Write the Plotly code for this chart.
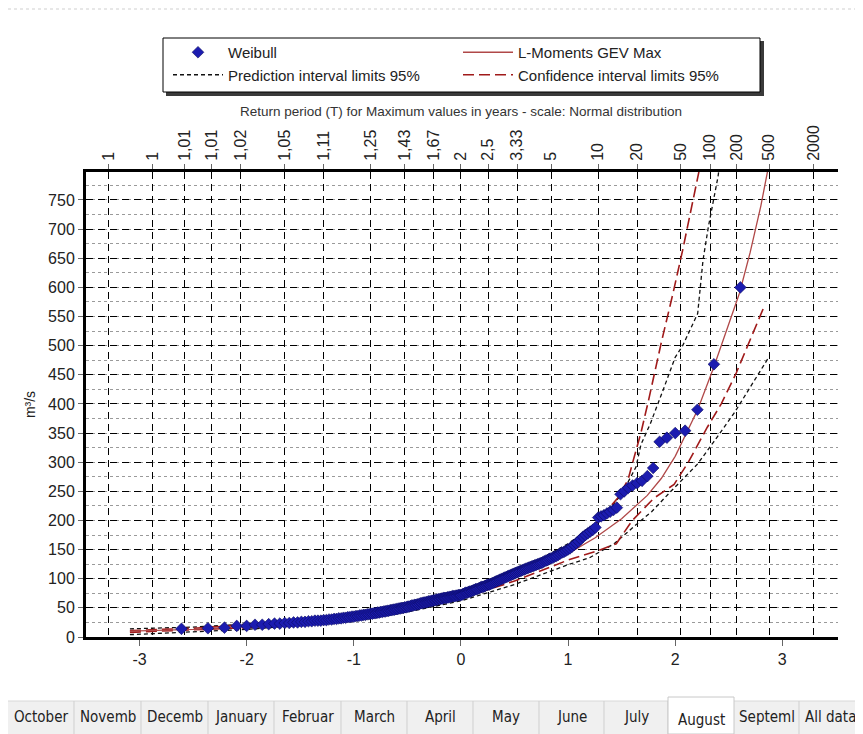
import plotly.graph_objects as go
from statistics import NormalDist

nd = NormalDist()

# ---------------- data ----------------
# Weibull sample (sorted, m3/s)
weibull_values = [
    14, 15, 16, 19, 19, 21, 21, 22, 23, 23,
    24, 24, 25, 25, 26, 26, 27, 27, 28, 28,
    28, 29, 29, 30, 30, 31, 31, 32, 32, 33,
    33, 34, 34, 35, 35, 36, 36, 37, 37, 38,
    38, 39, 39, 40, 40, 41, 41, 42, 42, 43,
    43, 44, 44, 45, 45, 46, 46, 47, 47, 48,
    48, 49, 49, 50, 50, 51, 51, 52, 52, 53,
    54, 54, 55, 55, 56, 56, 57, 58, 58, 59,
    59, 60, 60, 61, 61, 62, 62, 63, 63, 64,
    64, 65, 65, 66, 66, 67, 67, 67, 68, 68,
    69, 69, 70, 70, 70, 71, 71, 72, 72, 72,
    73, 74, 75, 76, 76, 77, 78, 78, 79, 80,
    81, 82, 82, 83, 84, 85, 86, 86, 87, 88,
    89, 90, 90, 91, 92, 93, 94, 95, 96, 97,
    98, 99, 100, 101, 102, 103, 104, 105, 106, 107,
    108, 109, 110, 111, 112, 113, 114, 115, 116, 117,
    118, 119, 120, 121, 122, 123, 124, 125, 126, 127,
    128, 130, 131, 132, 134, 135, 136, 138, 139, 141,
    143, 145, 146, 148, 150, 152, 155, 158, 161, 164,
    168, 172, 175, 178, 181, 184, 188,
    205, 207, 209, 212, 215, 218, 222,
    245, 250, 256, 260, 264, 268, 276, 290,
    335, 342, 350, 354, 390, 468, 600,
]

# Curves: x = standard normal variate, y = m3/s
gev_z = [-3.09, -2.5, -2.0, -1.5, -1.0, -0.5, 0.0, 0.5, 0.75, 1.0, 1.25, 1.5,
         1.74, 1.87, 2.0, 2.09, 2.21, 2.36, 2.5, 2.6, 2.7, 2.8, 2.86, 2.95]
gev_v = [10, 13, 18, 25, 34, 49, 69, 102, 120, 143, 170, 203,
         243, 272, 310, 345, 390, 463, 535, 590, 660, 740, 797, 880]

ucl_z = [-3.09, -2.5, -2.0, -1.5, -1.0, -0.5, 0.0, 0.5, 1.0, 1.25, 1.47, 1.56,
         1.61, 1.68, 1.75, 1.87, 1.98, 2.07, 2.22, 2.3]
ucl_v = [11, 15, 21, 28, 38, 53, 74, 106, 155, 192, 240, 270,
         304, 350, 405, 505, 590, 664, 797, 880]

lcl_z = [-3.09, -2.5, -2.0, -1.5, -1.0, -0.5, 0.0, 0.5, 1.0, 1.28, 1.45, 1.6,
         1.8, 1.99, 2.12, 2.3, 2.43, 2.57, 2.83]
lcl_v = [8, 12, 16, 23, 32, 46, 66, 96, 132, 148, 160, 200,
         238, 262, 299, 360, 400, 453, 567]

upl_z = [-3.09, -2.5, -2.0, -1.5, -1.0, -0.5, 0.0, 0.5, 1.0, 1.3, 1.5, 1.635,
         1.68, 1.77, 1.9, 2.0, 2.07, 2.21, 2.26, 2.31, 2.40, 2.45]
upl_v = [14, 17, 22, 29, 40, 55, 77, 110, 160, 200, 245, 292,
         330, 367, 430, 480, 500, 555, 647, 704, 790, 860]

lpl_z = [-3.09, -2.5, -2.0, -1.5, -1.0, -0.5, 0.0, 0.5, 1.0, 1.2, 1.43, 1.65,
         1.78, 1.96, 2.08, 2.21, 2.36, 2.55, 2.87]
lpl_v = [4, 9, 13, 20, 29, 43, 62, 90, 124, 136, 160, 195,
         215, 250, 272, 297, 335, 384, 479]

# Top axis: return periods
rp_T = [1.0005, 1.002, 1.005, 1.0101, 1.0204, 1.0526, 1.1111, 1.25, 1.4286, 1.6667,
        2, 2.5, 3.3333, 5, 10, 20, 50, 100, 200, 500, 2000]
rp_labels = ["1", "1", "1,01", "1,01", "1,02", "1,05", "1,11", "1,25", "1,43", "1,67",
             "2", "2,5", "3,33", "5", "10", "20", "50", "100", "200", "500", "2000"]

x_ticks = [-3, -2, -1, 0, 1, 2, 3]
y_ticks = list(range(0, 800, 50))

tab_labels = ["October", "Novemb", "Decemb", "January", "Februar", "March", "April",
              "May", "June", "July", "August", "Septeml", "All data"]
selected_tab = "August"

# ---------------- geometry helpers (page pixel coordinates) ----------------
BODY = 8                      # default page margin around the plot div
W, H = 863 - BODY, 734 - BODY
PL, PR, PT, PB = 86, 838, 172, 637


def px(x):
    return (x - PL) / (PR - PL)


def py(y):
    return (PB - y) / (PB - PT)


FONT = "Liberation Sans, Arial, sans-serif"

n = len(weibull_values)
weibull_z = [nd.inv_cdf(i / (n + 1)) for i in range(1, n + 1)]
rp_z = [nd.inv_cdf(1 - 1 / t) for t in rp_T]

fig = go.Figure()

fig.add_trace(go.Scatter(
    x=upl_z + [None] + lpl_z, y=upl_v + [None] + lpl_v, mode="lines",
    name="Prediction interval limits 95%", legendrank=3,
    line=dict(color="#111111", width=1.3, dash="4px,3px"), hoverinfo="skip"))
fig.add_trace(go.Scatter(
    x=ucl_z + [None] + lcl_z, y=ucl_v + [None] + lcl_v, mode="lines",
    name="Confidence interval limits 95%", legendrank=4,
    line=dict(color="#a01a1a", width=1.6, dash="11px,5px"), hoverinfo="skip"))
fig.add_trace(go.Scatter(
    x=gev_z, y=gev_v, mode="lines", name="L-Moments GEV Max", legendrank=2,
    line=dict(color="#b04848", width=1.3)))
fig.add_trace(go.Scatter(
    x=weibull_z, y=weibull_values, mode="markers", name="Weibull", legendrank=1,
    marker=dict(symbol="diamond", size=9, color="#1c1cb0",
                line=dict(color="#0a0a60", width=0.6))))
# carrier for top axis
fig.add_trace(go.Scatter(x=[-3.5, 3.52], y=[None, None], xaxis="x2", mode="lines",
                         showlegend=False, hoverinfo="skip"))

shapes = []
annotations = []

# legend frame with shadow
shapes.append(dict(type="rect", xref="paper", yref="paper",
                   x0=px(166), x1=px(764), y0=py(96), y1=py(41),
                   fillcolor="#3a3a3a", line=dict(width=0), layer="above"))
shapes.append(dict(type="rect", xref="paper", yref="paper",
                   x0=px(163), x1=px(760), y0=py(92), y1=py(38),
                   fillcolor="white", line=dict(color="black", width=1), layer="above"))

# top faint border
shapes.append(dict(type="line", xref="paper", yref="paper",
                   x0=px(8), x1=px(863), y0=py(9), y1=py(9),
                   line=dict(color="#cfcfcf", width=1, dash="dot")))

# tabs
tab_edges = [8, 74, 141, 208, 274, 341, 407, 473, 539, 604, 668, 734, 799, 862]
shapes.append(dict(type="rect", xref="paper", yref="paper",
                   x0=px(8), x1=px(863), y0=py(734), y1=py(701),
                   fillcolor="#f0f0f0", line=dict(width=0)))
shapes.append(dict(type="line", xref="paper", yref="paper",
                   x0=px(8), x1=px(862), y0=py(701), y1=py(701),
                   line=dict(color="#d8d8d8", width=1)))
for i, lab in enumerate(tab_labels):
    x0, x1 = tab_edges[i], tab_edges[i + 1]
    sel = lab == selected_tab
    if sel:
        shapes.append(dict(type="rect", xref="paper", yref="paper",
                           x0=px(x0), x1=px(x1), y0=py(734), y1=py(697),
                           fillcolor="white", line=dict(color="#c8c8c8", width=1)))
    else:
        shapes.append(dict(type="line", xref="paper", yref="paper",
                           x0=px(x1), x1=px(x1), y0=py(734), y1=py(701),
                           line=dict(color="#cfcfcf", width=1)))
    annotations.append(dict(
        text=lab, xref="paper", yref="paper", x=px((x0 + x1) / 2),
        y=py(720 if sel else 717), xanchor="center", yanchor="middle", showarrow=False,
        font=dict(family="DejaVu Sans Condensed, DejaVu Sans, sans-serif", size=15,
                  color="#222222")))

# top axis title
annotations.append(dict(
    text="Return period (T) for Maximum values in years - scale: Normal distribution",
    xref="paper", yref="paper", x=px(461), y=py(112), xanchor="center", yanchor="middle",
    showarrow=False, font=dict(family=FONT, size=13.5, color="#333333")))

fig.update_layout(
    width=W, height=H,
    margin=dict(l=PL - BODY, r=863 - PR, t=PT - BODY, b=734 - PB, pad=0),
    paper_bgcolor="white", plot_bgcolor="white",
    font=dict(family=FONT, size=15, color="#222222"),
    showlegend=True,
    legend=dict(orientation="h", x=px(168), y=py(36), xanchor="left", yanchor="top",
                bgcolor="rgba(0,0,0,0)", borderwidth=0, entrywidth=225,
                entrywidthmode="pixels", itemwidth=50, tracegroupgap=0,
                font=dict(family=FONT, size=15, color="#222222")),
    xaxis=dict(range=[-3.5, 3.52], tickvals=x_ticks, ticktext=[str(v) for v in x_ticks],
               showgrid=False, zeroline=False, showline=True, linecolor="black",
               linewidth=3, ticks="outside", ticklen=6, tickcolor="#666666",
               tickfont=dict(size=16, color="#222222")),
    xaxis2=dict(range=[-3.5, 3.52], overlaying="x", side="top", tickvals=rp_z,
                ticktext=rp_labels, tickangle=-90, showgrid=True, gridcolor="black",
                griddash="7px,5px", gridwidth=1.2, zeroline=False, showline=True,
                linecolor="black", linewidth=3, ticks="outside", ticklen=5,
                tickcolor="#666666", tickfont=dict(size=16, color="#222222")),
    yaxis=dict(range=[0, 798], tickvals=y_ticks, showgrid=True, gridcolor="black",
               griddash="7px,5px", gridwidth=1.2, zeroline=False, showline=True,
               linecolor="black", linewidth=3, ticks="outside", ticklen=5,
               tickcolor="#666666", tickfont=dict(size=16, color="#222222"),
               minor=dict(dtick=25, tick0=0, showgrid=True, gridcolor="#9a9a9a",
                          griddash="dot", gridwidth=1),
               title=dict(text="m³/s", standoff=10, font=dict(size=14, color="#222222"))),
    shapes=shapes, annotations=annotations,
)

fig.write_html("out.html")
